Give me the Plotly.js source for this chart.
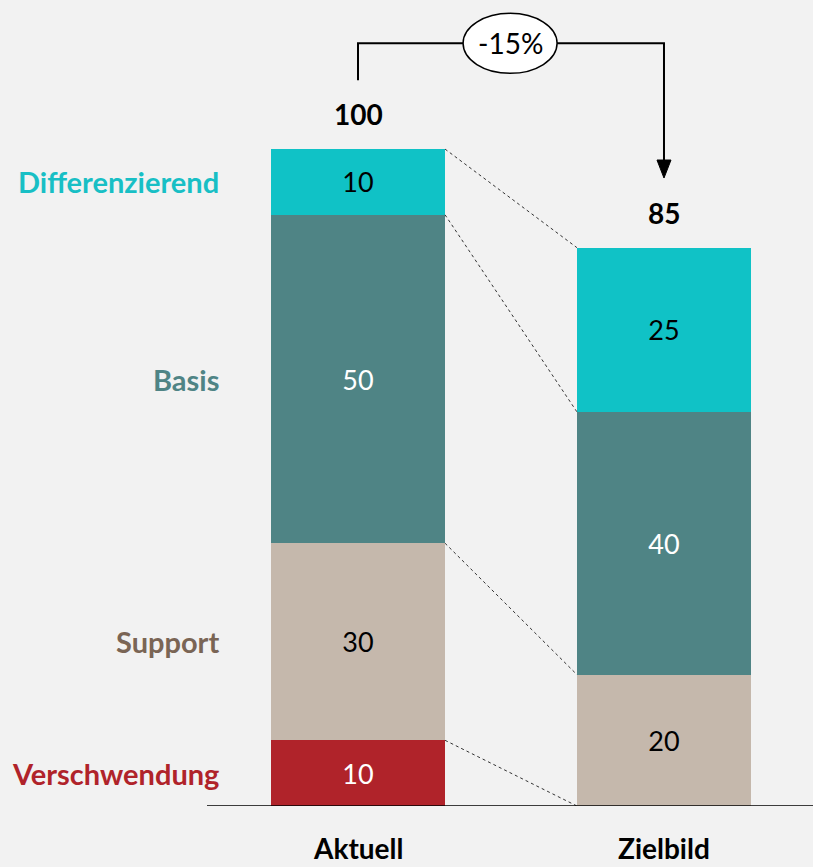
<!DOCTYPE html>
<html><head><meta charset="utf-8">
<script src="https://cdn.plot.ly/plotly-3.0.1.min.js"></script>
<style>body{margin:0;background:#f2f2f2}#c{width:813px;height:867px}</style>
</head><body><div id="c"></div>
<script>
const categories = ["Aktuell", "Zielbild"];
const segments = ["Verschwendung", "Support", "Basis", "Differenzierend"];
const verschwendung = [10, 0];
const support = [30, 20];
const basis = [50, 40];
const differenzierend = [10, 25];
const changeLabel = "-15%";

const series = [verschwendung, support, basis, differenzierend];
const fillColors = ["#B0232A", "#C5B8AC", "#4F8485", "#10C2C6"];
const labelColors = ["#B0232A", "#7A6555", "#4F8485", "#18BFC5"];
const textColors = ["#ffffff", "#000000", "#ffffff", "#000000"];
const FONT = "Lato, 'Open Sans', sans-serif";
const BW = 0.569;

const traces = series.map((vals, i) => ({
  type: "bar", x: categories, y: vals, name: segments[i], width: BW,
  marker: {color: fillColors[i], line: {width: 0}},
  text: vals.map(v => v > 0 ? String(v) : ""),
  textposition: "inside", insidetextanchor: "middle",
  textfont: {family: FONT, size: 27, color: textColors[i]},
  hoverinfo: "skip", cliponaxis: false
}));

const totals = categories.map((c, j) => series.reduce((s, a) => s + a[j], 0));
const cum = categories.map((c, j) => {
  const b = [0]; let s = 0;
  series.forEach(a => { s += a[j]; b.push(s); });
  return b;
});

const shapes = [];
const annotations = [];
for (let k = 1; k < cum[0].length; k++) {
  shapes.push({type: "line", xref: "x", yref: "y",
    x0: 0 + BW / 2, y0: cum[0][k], x1: 1 - BW / 2, y1: cum[1][k],
    line: {color: "#333", width: 1, dash: "dot"}});
}
shapes.push({type: "line", xref: "paper", yref: "y", x0: 0, x1: 1, y0: 0, y1: 0,
  line: {color: "#000", width: 1.5}});

const yTop = 116.1;
shapes.push({type: "path", xref: "x", yref: "y",
  path: `M 0 ${totals[0] + 10.5} L 0 ${yTop} L 1 ${yTop} L 1 ${totals[1] + 13.3}`,
  line: {color: "#000", width: 2}});
shapes.push({type: "path", xref: "x", yref: "y", xsizemode: "pixel", ysizemode: "pixel",
  xanchor: 1, yanchor: totals[1] + 10.6,
  path: "M -7 18 L 7 18 L 0 0 Z", fillcolor: "#000", line: {color: "#000", width: 1}});
shapes.push({type: "circle", xref: "x", yref: "y", xsizemode: "pixel", ysizemode: "pixel",
  xanchor: 0.497, yanchor: yTop, x0: -47, x1: 47, y0: -30, y1: 30,
  fillcolor: "#ffffff", line: {color: "#000", width: 1.5}});
annotations.push({xref: "x", yref: "y", x: 0.497, y: yTop, yanchor: "middle", text: changeLabel, showarrow: false,
  font: {family: FONT, size: 28, color: "#000"}});

categories.forEach((c, j) => {
  annotations.push({xref: "x", yref: "y", x: j, y: totals[j], yanchor: "middle", yshift: 35, text: "<b>" + totals[j] + "</b>",
    showarrow: false, font: {family: FONT, size: 28, color: "#000"}});
  annotations.push({xref: "x", yref: "paper", x: j, y: 0, yanchor: "bottom", yshift: -60, borderpad: 0, text: "<b>" + c + "</b>",
    showarrow: false, font: {family: FONT, size: 28, color: "#000"}});
});
segments.forEach((s, i) => {
  annotations.push({xref: "paper", yref: "y", x: 0.0225, xanchor: "right", yanchor: "middle",
    y: (cum[0][i] + cum[0][i + 1]) / 2, text: "<b>" + s + "</b>", showarrow: false,
    font: {family: FONT, size: 29, color: labelColors[i]}});
});

Plotly.newPlot("c", traces, {
  width: 813, height: 867, barmode: "stack", showlegend: false,
  paper_bgcolor: "#f2f2f2", plot_bgcolor: "#f2f2f2",
  margin: {l: 207, r: 0, t: 0, b: 61},
  xaxis: {type: "category", range: [-0.4935, 1.487], showticklabels: false, showgrid: false, zeroline: false, showline: false, ticks: ""},
  yaxis: {range: [0, 122.7], visible: false, showgrid: false, zeroline: false},
  shapes, annotations, font: {family: FONT}
}, {staticPlot: true});
</script></body></html>
